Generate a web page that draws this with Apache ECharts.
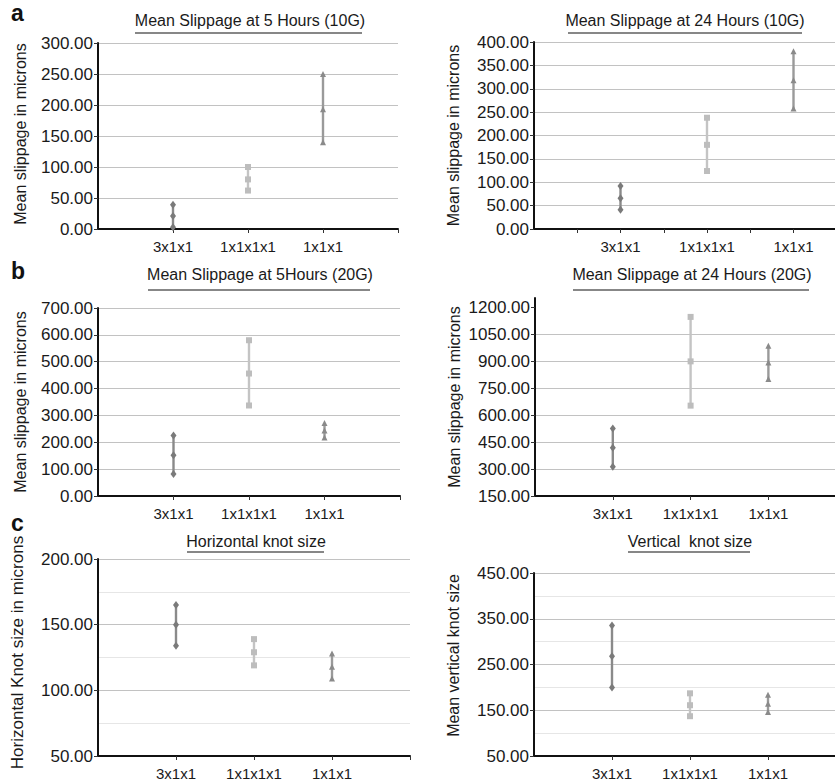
<!DOCTYPE html>
<html><head><meta charset="utf-8">
<script src="https://cdn.jsdelivr.net/npm/echarts@6/dist/echarts.min.js"></script>
<style>html,body{margin:0;padding:0;background:#fff}#c{width:835px;height:782px}</style>
</head><body><div id="c"></div>
<script>
// ---------- DATA ----------
const categories = ['3x1x1', '1x1x1x1', '1x1x1'];

// a (left): Mean Slippage at 5 Hours (10G)
const a5Low  = [3, 62, 140];
const a5Mean = [21, 80, 193];
const a5High = [39, 100, 250];
const a5YTicks = [0, 50, 100, 150, 200, 250, 300];

// a (right): Mean Slippage at 24 Hours (10G)
const a24Low  = [41, 124, 258];
const a24Mean = [66, 180, 318];
const a24High = [92, 238, 380];
const a24YTicks = [0, 50, 100, 150, 200, 250, 300, 350, 400];

// b (left): Mean Slippage at 5Hours (20G)
const b5Low  = [82, 337, 218];
const b5Mean = [152, 456, 244];
const b5High = [225, 580, 272];
const b5YTicks = [0, 100, 200, 300, 400, 500, 600, 700];

// b (right): Mean Slippage at 24 Hours (20G)
const b24Low  = [312, 652, 800];
const b24Mean = [418, 898, 892];
const b24High = [525, 1145, 985];
const b24YTicks = [150, 300, 450, 600, 750, 900, 1050, 1200];

// c (left): Horizontal knot size
const cHLow  = [134, 119, 109];
const cHMean = [150, 129, 118];
const cHHigh = [165, 139, 128];
const cHYTicks = [50, 100, 150, 200];

// c (right): Vertical knot size
const cVLow  = [200, 137, 146];
const cVMean = [268, 161, 164];
const cVHigh = [335, 187, 184];
const cVYTicks = [50, 150, 250, 350, 450];

const titles = [
  'Mean Slippage at 5 Hours (10G)', 'Mean Slippage at 24 Hours (10G)',
  'Mean Slippage at 5Hours (20G)', 'Mean Slippage at 24 Hours (20G)',
  'Horizontal knot size', 'Vertical  knot size'
];
const yNames = [
  'Mean slippage in microns', 'Mean slippage in microns',
  'Mean slippage in microns', 'Mean slippage in microns',
  'Horizontal Knot size in microns', 'Mean vertical knot size'
];
const panelLetters = ['a', 'b', 'c'];

// ---------- LAYOUT / STYLE ----------
// unit = pixels per category step; right-hand panels are cut by the page edge
const panels = [
  { low: a5Low,  mean: a5Mean,  high: a5High,  ticks: a5YTicks,  left: 98,  top: 43,  unit: 75,   width: 300, height: 186, xTicks: [1,2,3,4], gap: 70, nameShift: 4, nameSize: 16, max: null, minor: 0,
    tx: 250, ty: 21, ul: [135, 362, 33] },
  { low: a24Low, mean: a24Mean, high: a24High, ticks: a24YTicks, left: 534, top: 42,  unit: 86.5, width: 301, height: 187, xTicks: [0.5,1,1.5,2,2.5,3], gap: 73, nameShift: 0, nameSize: 16, max: null, minor: 0,
    tx: 685, ty: 21, ul: [568, 802, 33] },
  { low: b5Low,  mean: b5Mean,  high: b5High,  ticks: b5YTicks,  left: 98,  top: 308, unit: 75.5, width: 302, height: 188, xTicks: [1,2,3,4], gap: 70, nameShift: 0, nameSize: 16, max: null, minor: 0,
    tx: 260, ty: 275, ul: [148, 370, 290] },
  { low: b24Low, mean: b24Mean, high: b24High, ticks: b24YTicks, left: 535, top: 298, unit: 77.8, width: 300, height: 198, xTicks: [1,2,3], gap: 73, nameShift: 0, nameSize: 16, max: 1250, minor: 0,
    tx: 692, ty: 275, ul: [573, 809, 290] },
  { low: cHLow,  mean: cHMean,  high: cHHigh,  ticks: cHYTicks,  left: 98,  top: 559, unit: 78,   width: 312, height: 197, xTicks: [1,2,3,4], gap: 72, nameShift: 10, nameSize: 17, max: null, minor: 2,
    tx: 256, ty: 542, ul: [187, 324, 552] },
  { low: cVLow,  mean: cVMean,  high: cVHigh,  ticks: cVYTicks,  left: 534, top: 573, unit: 78,   width: 301, height: 183, xTicks: [1,2,3], gap: 73, nameShift: 18, nameSize: 16, max: null, minor: 2,
    tx: 690, ty: 542, ul: [628, 750, 552] }
];

const seriesStyles = [
  { symbol: 'diamond',  size: [6, 8], color: '#7a7a7a', line: '#8a8a8a' },
  { symbol: 'rect',     size: 6,      color: '#bdbdbd', line: '#c4c4c4' },
  { symbol: 'triangle', size: 6,      color: '#8a8a8a', line: '#9a9a9a' }
];

const FONT = 'Liberation Sans, Arial, sans-serif';
const TXT = '#1a1a1a';

const grid = [], xAxis = [], yAxis = [], series = [], title = [], graphic = [];

panels.forEach((p, i) => {
  grid.push({ left: p.left, top: p.top, width: p.width, height: p.height, containLabel: false });
  xAxis.push({
    type: 'value', gridIndex: i, min: 0, max: p.width / p.unit, interval: 1,
    axisLine: { show: true, onZero: false, lineStyle: { color: '#111', width: 2 } },
    axisTick: { show: true, customValues: p.xTicks, length: 4, lineStyle: { color: '#333', width: 1 } },
    axisLabel: { customValues: [1, 2, 3], formatter: v => categories[Math.round(v) - 1] || '', color: TXT, fontSize: 15, fontFamily: FONT, margin: 10 },
    splitLine: { show: false }
  });
  const ymin = p.ticks[0];
  const ymax = p.max != null ? p.max : p.ticks[p.ticks.length - 1];
  const interval = p.ticks[1] - p.ticks[0];
  yAxis.push({
    type: 'value', gridIndex: i, min: ymin, max: ymax, interval: interval,
    name: yNames[i], nameLocation: 'middle', nameGap: p.gap,
    nameTextStyle: { color: TXT, fontSize: p.nameSize, fontFamily: FONT, padding: [0, 0, 0, p.nameShift] },
    axisLine: { show: true, lineStyle: { color: '#111', width: 2 } },
    axisTick: { show: true, customValues: p.ticks, length: 4, lineStyle: { color: '#333' } },
    axisLabel: { customValues: p.ticks, formatter: v => v.toFixed(2), color: TXT, fontSize: 17, fontFamily: FONT, margin: 5 },
    splitLine: { show: true, showMinLine: false, showMaxLine: p.max == null, lineStyle: { color: '#c2c2c2', width: 1 } },
    minorTick: { show: false, splitNumber: p.minor || 5 },
    minorSplitLine: { show: p.minor > 0, lineStyle: { color: '#e6e6e6', width: 1 } }
  });
  categories.forEach((c, k) => {
    const st = seriesStyles[k];
    series.push({
      type: 'line', name: c, xAxisIndex: i, yAxisIndex: i,
      data: [[k + 1, p.low[k]], [k + 1, p.mean[k]], [k + 1, p.high[k]]],
      symbol: st.symbol, symbolSize: st.size, showAllSymbol: true,
      itemStyle: { color: st.color },
      lineStyle: { color: st.line, width: 2.4 },
      animation: false, silent: true
    });
  });
  title.push({
    text: titles[i], left: p.tx, top: p.ty - 9, textAlign: 'center', padding: 0,
    textStyle: { color: TXT, fontSize: 16, fontWeight: 'normal', fontFamily: FONT }
  });
  graphic.push({
    type: 'line', shape: { x1: p.ul[0], y1: p.ul[2], x2: p.ul[1], y2: p.ul[2] },
    style: { stroke: '#111', lineWidth: 1.2 }, silent: true
  });
});

const letterTops = [1, 259, 511];
panelLetters.forEach((l, j) => {
  graphic.push({
    type: 'text', left: 11, top: letterTops[j],
    style: { text: l, fill: '#111', font: 'bold 23px ' + FONT }
  });
});

const chart = echarts.init(document.getElementById('c'), null, { renderer: 'svg' });
chart.setOption({
  backgroundColor: '#fff',
  animation: false,
  title, grid, xAxis, yAxis, series, graphic,
  legend: { show: false },
  tooltip: { show: false }
});
</script>
</body></html>
